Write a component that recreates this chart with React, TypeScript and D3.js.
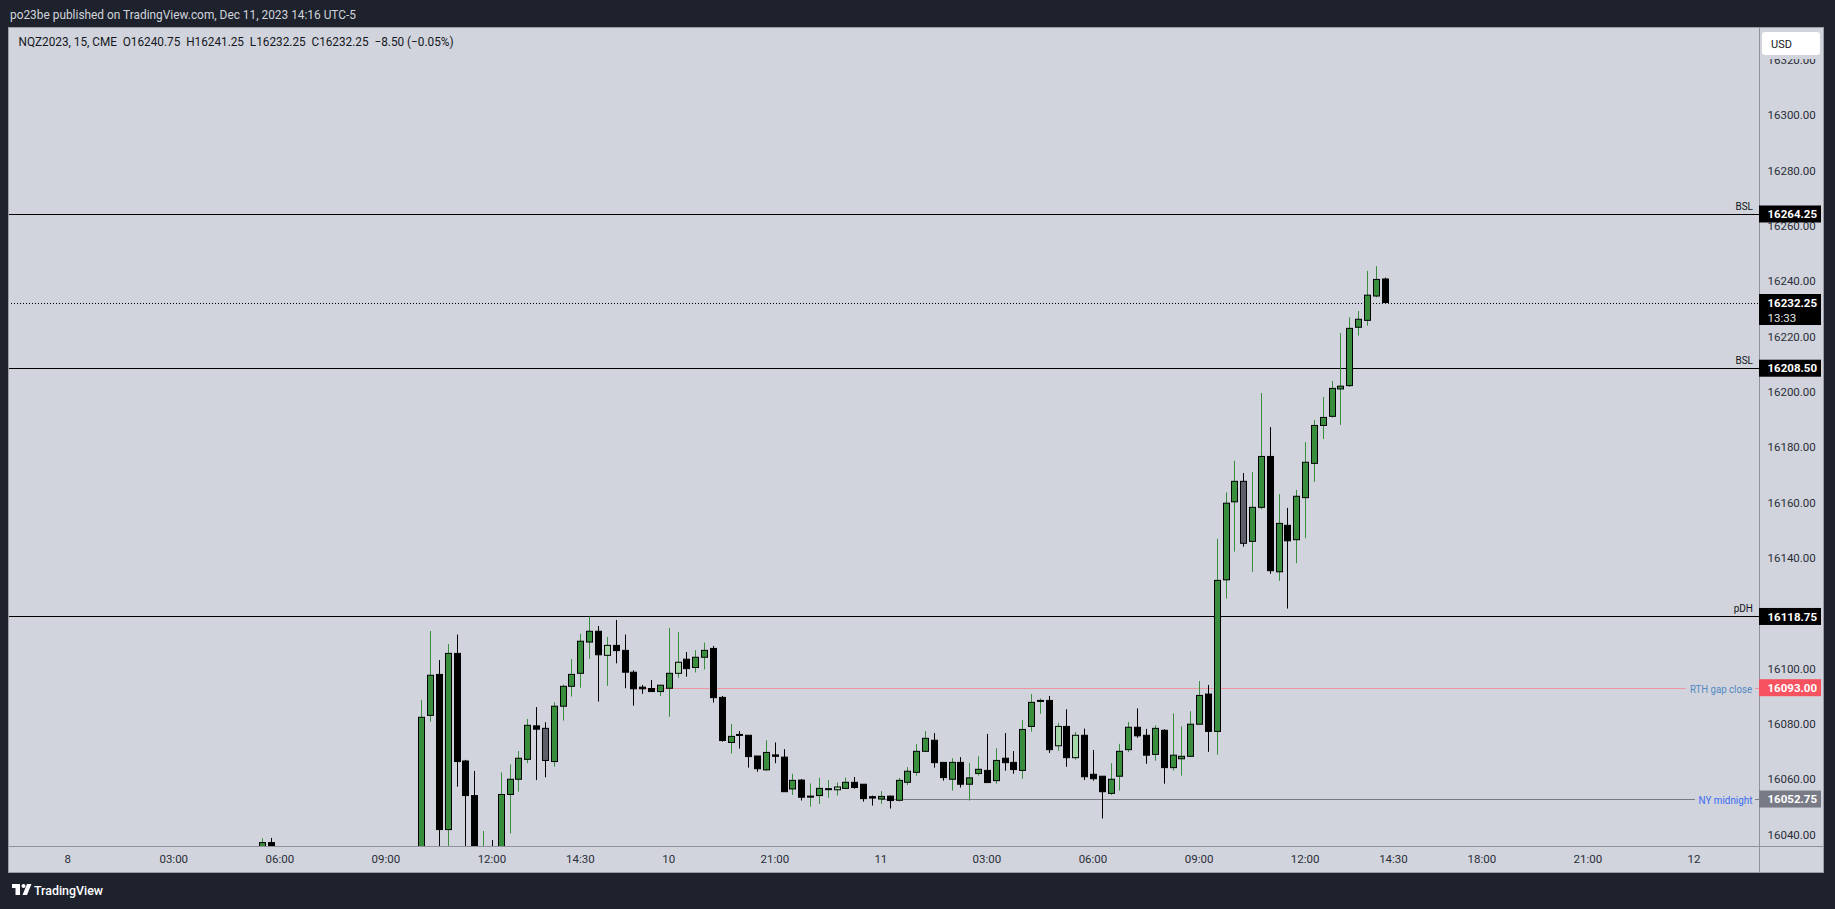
import React from "react";
import * as d3 from "d3";

const W = 1835;
const H = 909;

// ---- Data ----
const candleTimes: string[] = [
  "8 05:30", "8 05:45",
  "8 10:00", "8 10:15", "8 10:30", "8 10:45", "8 11:00", "8 11:15", "8 11:30", "8 11:45",
  "8 12:00", "8 12:15", "8 12:30", "8 12:45", "8 13:00", "8 13:15", "8 13:30", "8 13:45",
  "8 14:00", "8 14:15", "8 14:30", "8 14:45", "8 15:00", "8 15:15", "8 15:30", "8 15:45",
  "8 16:00", "8 16:15", "8 16:30", "8 16:45",
  "10 18:00", "10 18:15", "10 18:30", "10 18:45", "10 19:00", "10 19:15", "10 19:30", "10 19:45",
  "10 20:00", "10 20:15", "10 20:30", "10 20:45", "10 21:00", "10 21:15", "10 21:30", "10 21:45",
  "10 22:00", "10 22:15", "10 22:30", "10 22:45", "10 23:00", "10 23:15", "10 23:30", "10 23:45",
  "11 00:00", "11 00:15", "11 00:30", "11 00:45", "11 01:00", "11 01:15", "11 01:30", "11 01:45",
  "11 02:00", "11 02:15", "11 02:30", "11 02:45", "11 03:00", "11 03:15", "11 03:30", "11 03:45",
  "11 04:00", "11 04:15", "11 04:30", "11 04:45", "11 05:00", "11 05:15", "11 05:30", "11 05:45",
  "11 06:00", "11 06:15", "11 06:30", "11 06:45", "11 07:00", "11 07:15", "11 07:30", "11 07:45",
  "11 08:00", "11 08:15", "11 08:30", "11 08:45", "11 09:00", "11 09:15", "11 09:30", "11 09:45",
  "11 10:00", "11 10:15", "11 10:30", "11 10:45", "11 11:00", "11 11:15", "11 11:30", "11 11:45",
  "11 12:00", "11 12:15", "11 12:30", "11 12:45", "11 13:00", "11 13:15", "11 13:30", "11 13:45",
  "11 14:00", "11 14:15",
];

const openValues: number[] = [
  16034.0, 16037.0,
  16022.0, 16083.0, 16097.8, 16041.7, 16105.4, 16066.5, 16054.0, 16022.0,
  16034.0, 16028.0, 16054.4, 16059.9, 16067.1, 16079.2, 16078.3, 16066.3,
  16086.3, 16093.5, 16098.2, 16109.5, 16113.4, 16104.7, 16108.3, 16106.5,
  16098.6, 16093.2, 16092.7, 16091.6,
  16092.8, 16098.2, 16103.3, 16100.3, 16104.0, 16107.2, 16089.5, 16073.2,
  16076.1, 16075.8, 16068.3, 16063.3, 16068.7, 16067.9, 16056.4, 16059.6,
  16053.6, 16054.0, 16056.3, 16056.1, 16056.6, 16058.8, 16058.1, 16053.6,
  16052.75, 16053.8, 16052.3, 16058.8, 16062.4, 16070.0, 16074.0, 16066.0,
  16059.9, 16066.0, 16058.1, 16062.0, 16063.1, 16059.4, 16067.5, 16066.0,
  16063.1, 16079.0, 16088.3, 16088.4, 16072.0, 16079.0, 16067.7, 16075.8,
  16061.7, 16061.0, 16054.8, 16061.0, 16070.6, 16078.7, 16075.8, 16068.9,
  16077.6, 16064.1, 16067.3, 16068.2, 16079.8, 16090.7, 16077.2, 16132.0,
  16160.2, 16167.6, 16145.9, 16158.2, 16176.6, 16134.9, 16151.7, 16146.5,
  16161.7, 16174.1, 16187.8, 16191.1, 16201.0, 16202.2, 16223.3, 16225.8,
  16234.6, 16240.75,
];

const highValues: number[] = [
  16038.6, 16038.7,
  16088.6, 16113.5, 16103.0, 16108.8, 16112.2, 16066.9, 16062.9, 16041.2,
  16037.9, 16062.4, 16065.3, 16070.1, 16081.7, 16086.0, 16080.5, 16087.7,
  16094.1, 16103.3, 16112.5, 16118.7, 16115.3, 16111.3, 16117.5, 16112.2,
  16099.3, 16094.0, 16095.8, 16093.9,
  16114.6, 16113.1, 16105.9, 16106.6, 16109.3, 16108.1, 16090.0, 16079.9,
  16077.3, 16075.8, 16068.3, 16074.0, 16073.2, 16070.8, 16061.9, 16060.0,
  16058.4, 16060.4, 16059.6, 16058.7, 16060.5, 16060.7, 16058.1, 16054.0,
  16055.6, 16054.0, 16060.4, 16064.3, 16072.6, 16077.3, 16076.6, 16066.0,
  16067.5, 16067.9, 16065.8, 16068.2, 16076.3, 16071.1, 16076.6, 16070.1,
  16081.3, 16090.7, 16089.1, 16090.0, 16080.3, 16085.2, 16077.0, 16078.2,
  16070.5, 16061.0, 16065.7, 16072.7, 16080.6, 16085.5, 16078.1, 16079.4,
  16078.0, 16083.7, 16079.0, 16084.5, 16095.4, 16094.0, 16146.8, 16163.6,
  16175.0, 16170.6, 16171.0, 16199.5, 16187.2, 16163.0, 16158.0, 16164.5,
  16181.8, 16189.8, 16198.1, 16203.9, 16221.2, 16226.9, 16229.2, 16243.7,
  16245.4, 16241.25,
];

const lowValues: number[] = [
  16028.0, 16029.0,
  16018.0, 16080.7, 16030.0, 16032.0, 16057.2, 16030.0, 16018.0, 16016.0,
  16020.0, 16024.0, 16040.3, 16055.4, 16065.7, 16059.6, 16060.6, 16064.5,
  16081.1, 16089.8, 16093.0, 16103.4, 16088.0, 16093.7, 16101.8, 16092.8,
  16086.5, 16090.8, 16091.6, 16090.0,
  16082.5, 16096.6, 16097.0, 16098.5, 16099.6, 16087.6, 16073.5, 16069.2,
  16071.0, 16064.1, 16062.6, 16063.0, 16065.7, 16055.4, 16054.2, 16052.2,
  16050.0, 16051.0, 16053.2, 16054.0, 16056.6, 16056.5, 16051.8, 16050.4,
  16051.0, 16049.3, 16051.9, 16057.8, 16061.2, 16070.0, 16064.1, 16059.4,
  16055.8, 16056.9, 16052.2, 16061.2, 16058.7, 16058.3, 16063.0, 16061.9,
  16060.1, 16077.1, 16083.6, 16069.4, 16070.2, 16064.4, 16067.0, 16059.6,
  16059.4, 16045.7, 16054.2, 16055.8, 16069.7, 16074.9, 16065.5, 16066.6,
  16058.3, 16063.0, 16061.2, 16068.2, 16079.8, 16069.8, 16068.8, 16125.2,
  16142.2, 16144.0, 16134.9, 16157.5, 16134.2, 16131.6, 16121.6, 16138.0,
  16147.0, 16167.4, 16182.9, 16190.7, 16188.0, 16201.7, 16220.3, 16223.9,
  16234.1, 16232.25,
];

const closeValues: number[] = [
  16037.0, 16034.5,
  16082.3, 16097.5, 16041.7, 16105.4, 16066.3, 16054.0, 16025.0, 16031.0,
  16027.0, 16054.4, 16059.9, 16067.5, 16079.4, 16078.0, 16066.7, 16086.3,
  16093.5, 16097.8, 16109.8, 16113.4, 16104.9, 16108.3, 16106.4, 16098.6,
  16092.6, 16092.6, 16091.6, 16093.9,
  16098.2, 16102.2, 16099.9, 16104.0, 16106.5, 16089.4, 16073.9, 16075.4,
  16075.8, 16068.1, 16063.7, 16069.6, 16068.2, 16055.4, 16059.5, 16053.4,
  16053.8, 16056.6, 16056.5, 16057.1, 16058.8, 16056.9, 16052.9, 16053.1,
  16053.7, 16052.2, 16059.5, 16062.8, 16070.0, 16074.7, 16065.9, 16060.5,
  16066.0, 16058.1, 16060.4, 16063.5, 16058.7, 16066.7, 16065.9, 16063.4,
  16077.9, 16087.7, 16088.4, 16070.6, 16079.0, 16067.7, 16075.8, 16060.8,
  16060.1, 16055.4, 16059.9, 16070.0, 16078.7, 16075.6, 16068.6, 16078.3,
  16064.1, 16068.6, 16068.2, 16079.8, 16090.2, 16077.2, 16131.8, 16159.7,
  16167.6, 16145.2, 16158.2, 16176.6, 16135.3, 16152.4, 16146.1, 16162.2,
  16174.5, 16187.8, 16190.7, 16201.2, 16202.0, 16222.9, 16226.2, 16234.9,
  16240.6, 16232.25,
];

// g = green, b = black, l = light green, y = grey
const candleKinds: string[] = [
  "g", "b",
  "g", "g", "b", "g", "b", "b", "b", "g",
  "b", "g", "g", "g", "g", "b", "y", "g",
  "g", "g", "g", "g", "b", "l", "b", "b",
  "b", "b", "b", "g",
  "g", "l", "b", "g", "g", "b", "b", "g",
  "b", "b", "b", "g", "b", "b", "g", "b",
  "g", "g", "g", "l", "g", "b", "b", "b",
  "g", "b", "g", "g", "g", "g", "b", "b",
  "g", "b", "g", "g", "b", "g", "b", "b",
  "g", "g", "g", "b", "l", "b", "l", "b",
  "b", "b", "g", "g", "g", "b", "b", "g",
  "b", "g", "g", "g", "g", "b", "g", "g",
  "g", "y", "g", "g", "b", "g", "b", "g",
  "g", "g", "g", "g", "g", "g", "g", "g",
  "g", "b",
];

const timeTickTimes: string[] = [
  "8 00:00", "8 03:00", "8 06:00", "8 09:00", "8 12:00", "8 14:30", "10 18:00", "10 21:00",
  "11 00:00", "11 03:00", "11 06:00", "11 09:00", "11 12:00", "11 14:30", "11 18:00", "11 21:00", "12 00:00",
];
const timeTickLabels: string[] = [
  "8", "03:00", "06:00", "09:00", "12:00", "14:30", "10", "21:00",
  "11", "03:00", "06:00", "09:00", "12:00", "14:30", "18:00", "21:00", "12",
];

const priceTicks: number[] = [16040, 16060, 16080, 16100, 16120, 16140, 16160, 16180, 16200, 16220, 16240, 16260, 16280, 16300, 16320];

const levelPrices: number[] = [16264.25, 16208.5, 16118.75];
const levelNames: string[] = ["BSL", "BSL", "pDH"];

const lastPrice = 16232.25;
const countdown = "13:33";
const rthPrice = 16093.0;
const rthStart = "8 16:15";
const nyMidPrice = 16052.75;
const nyMidStart = "11 00:00";

const headerText = "po23be published on TradingView.com, Dec 11, 2023 14:16 UTC-5";
const legendText = "NQZ2023, 15, CME  O16240.75  H16241.25  L16232.25  C16232.25  \u22128.50 (\u22120.05%)";

// ---- Layout ----
const PLOT = { x0: 8, y0: 27, x1: 1759, y1: 846 };
const PANEL = { x0: 8, y0: 27, x1: 1824, y1: 873 };
const FONT = "Roboto, 'Noto Sans', 'DejaVu Sans', sans-serif";

function slotIndex(t: string): number {
  const [d, hm] = t.split(" ");
  const [h, m] = hm.split(":").map(Number);
  const min = h * 60 + m;
  const day = +d;
  if (day === 8) return min / 15;
  if (day === 10) return 68 + (min - 1080) / 15;
  if (day === 11) return min < 1020 ? 92 + min / 15 : 160 + (min - 1080) / 15;
  return 184 + min / 15;
}

const x = d3.scaleLinear().domain([0, 184]).range([67.7, 1694]);
const y = d3.scaleLinear().domain([16040, 16300]).range([834.3, 115.1]);

const GREEN = "#388e3c";
const LIGHT = "#a5d6a7";
const GREY = "#5d606b";

function bodyFill(k: string) {
  if (k === "g") return GREEN;
  if (k === "l") return LIGHT;
  if (k === "y") return GREY;
  return "#000000";
}
function wickColor(k: string) {
  return k === "g" || k === "l" ? GREEN : "#000000";
}

function PriceBox({ price, bg, label, sub }: { price: number; bg: string; label: string; sub?: string }) {
  const cy = y(price);
  if (sub) {
    return (
      <g>
        <rect x={1759} y={cy - 8.5} width={62} height={31} fill={bg} />
        <text x={1767.5} y={cy + 4.5} fill="#ffffff" fontSize={11.5} fontWeight={700} fontFamily={FONT}>{label}</text>
        <text x={1767.5} y={cy + 19} fill="#e6e6e6" fontSize={11.5} fontFamily={FONT}>{sub}</text>
      </g>
    );
  }
  return (
    <g>
      <rect x={1759} y={cy - 8.5} width={62} height={17} fill={bg} />
      <text x={1767.5} y={cy + 4.2} fill="#ffffff" fontSize={11.5} fontWeight={700} fontFamily={FONT}>{label}</text>
    </g>
  );
}

export default function App() {
  const bars = candleTimes.map((t, i) => ({
    t,
    o: openValues[i],
    h: highValues[i],
    l: lowValues[i],
    c: closeValues[i],
    k: candleKinds[i],
    px: Math.round(x(slotIndex(t))),
  }));

  const rthX = x(slotIndex(rthStart)) - 4;
  const nyX = x(slotIndex(nyMidStart));
  const rthY = Math.round(y(rthPrice)) + 0.5;
  const nyY = Math.round(y(nyMidPrice)) + 0.5;
  const lastY = Math.round(y(lastPrice)) + 0.5;

  return (
    <svg
      width={W}
      height={H}
      viewBox={`0 0 ${W} ${H}`}
      style={{ position: "absolute", left: 0, top: 0, display: "block" }}
    >
      <defs>
        <clipPath id="plotClip">
          <rect x={PLOT.x0} y={PLOT.y0} width={PLOT.x1 - PLOT.x0} height={PLOT.y1 - PLOT.y0} />
        </clipPath>
      </defs>
      <rect x={0} y={0} width={W} height={H} fill="#1e222d" />
      <text x={10} y={19} fill="#d1d4dc" fontSize={13} fontFamily={FONT} textLength={346} lengthAdjust="spacingAndGlyphs">
        {headerText}
      </text>

      {/* panel */}
      <rect x={PANEL.x0} y={PANEL.y0} width={PANEL.x1 - PANEL.x0} height={PANEL.y1 - PANEL.y0} fill="#d1d4dc" />

      {/* level lines (behind candles) */}
      <g clipPath="url(#plotClip)">
        {levelPrices.map((p, i) => {
          const ly = Math.round(y(p)) + 0.5;
          return <line key={"lv" + i} x1={PLOT.x0} x2={PLOT.x1} y1={ly} y2={ly} stroke="#000" strokeWidth={1.2} />;
        })}
        <line x1={PLOT.x0} x2={PLOT.x1} y1={lastY} y2={lastY} stroke="#000" strokeWidth={1} strokeDasharray="1 2" />
        <line x1={rthX} x2={1686} y1={rthY} y2={rthY} stroke="#ef97a1" strokeWidth={1} />
        <line x1={1755} x2={PLOT.x1} y1={rthY} y2={rthY} stroke="#ef97a1" strokeWidth={1} />
        <line x1={nyX} x2={1695} y1={nyY} y2={nyY} stroke="#787b86" strokeWidth={1} />
        <line x1={1755} x2={PLOT.x1} y1={nyY} y2={nyY} stroke="#787b86" strokeWidth={1} />
      </g>

      {/* candles */}
      <g clipPath="url(#plotClip)">
        {bars.map((b, i) => {
          const top = y(Math.max(b.o, b.c));
          const bot = y(Math.min(b.o, b.c));
          const hgt = Math.max(bot - top, 1);
          return (
            <g key={"c" + i}>
              <line x1={b.px + 0.5} x2={b.px + 0.5} y1={y(b.h)} y2={y(b.l)} stroke={wickColor(b.k)} strokeWidth={1} />
              <rect x={b.px - 2.5} y={top} width={6} height={hgt} fill={bodyFill(b.k)} stroke="#000" strokeWidth={1} />
            </g>
          );
        })}
      </g>

      {/* level names */}
      {levelPrices.map((p, i) => (
        <text key={"ln" + i} x={1753} y={y(p) - 4} textAnchor="end" fill="#131722" fontSize={10} fontFamily={FONT}>
          {levelNames[i]}
        </text>
      ))}
      <text x={1690} y={rthY + 4} fill="#5288c4" fontSize={10.5} fontFamily={FONT} textLength={62} lengthAdjust="spacingAndGlyphs">RTH gap close</text>
      <text x={1698.5} y={nyY + 4} fill="#3a6cf4" fontSize={10.5} fontFamily={FONT} textLength={54} lengthAdjust="spacingAndGlyphs">NY midnight</text>

      {/* legend */}
      <text x={18.5} y={46} fill="#131722" fontSize={12} fontFamily={FONT} style={{ whiteSpace: "pre" }} textLength={435} lengthAdjust="spacingAndGlyphs">
        {legendText}
      </text>

      {/* axes separators */}
      <line x1={PLOT.x1 + 0.5} x2={PLOT.x1 + 0.5} y1={PANEL.y0} y2={PANEL.y1} stroke="#8f929b" strokeWidth={1} />
      <line x1={PANEL.x0} x2={PANEL.x1} y1={PLOT.y1 + 0.5} y2={PLOT.y1 + 0.5} stroke="#8f929b" strokeWidth={1} />
      <rect x={PANEL.x0 + 0.5} y={PANEL.y0 + 0.5} width={PANEL.x1 - PANEL.x0 - 1} height={PANEL.y1 - PANEL.y0 - 1} fill="none" stroke="#9a9da6" strokeWidth={1} />

      {/* price axis ticks */}
      {priceTicks.map((p) => {
        const ty = y(p);
        if (ty < PLOT.y0 + 4 || ty > PLOT.y1 - 4) return null;
        return (
          <text key={"pt" + p} x={1767.5} y={ty + 4.2} fill="#2a2e39" fontSize={11.5} fontFamily={FONT}>
            {p.toFixed(2)}
          </text>
        );
      })}

      {/* time axis */}
      {timeTickTimes.map((t, i) => (
        <text key={"tt" + i} x={x(slotIndex(t))} y={863} textAnchor="middle" fill="#2a2e39" fontSize={11.5} fontFamily={FONT}>
          {timeTickLabels[i]}
        </text>
      ))}

      {/* price boxes */}
      {levelPrices.map((p, i) => (
        <PriceBox key={"pb" + i} price={p} bg="#000000" label={p.toFixed(2)} />
      ))}
      <PriceBox price={rthPrice} bg="#f7525f" label={rthPrice.toFixed(2)} />
      <PriceBox price={nyMidPrice} bg="#787b86" label={nyMidPrice.toFixed(2)} />
      <PriceBox price={lastPrice} bg="#000000" label={lastPrice.toFixed(2)} sub={countdown} />

      {/* USD button area */}
      <rect x={1760} y={28} width={63} height={31} fill="#d1d4dc" />
      <rect x={1762} y={32} width={58} height={23} rx={3} fill="#ffffff" />
      <text x={1771} y={47.5} fill="#131722" fontSize={11} fontFamily={FONT}>USD</text>

      {/* TradingView logo */}
      <g fill="#ffffff">
        <rect x={12} y={884} width={8} height={4} />
        <rect x={15.5} y={884} width={4.5} height={11} />
        <circle cx={23.5} cy={886} r={2} />
        <polygon points="27,884 31.5,884 27,895 22.5,895" />
        <text x={34} y={895} fontSize={13} fontFamily={FONT} fontWeight={500} textLength={69} lengthAdjust="spacingAndGlyphs">TradingView</text>
      </g>
    </svg>
  );
}
